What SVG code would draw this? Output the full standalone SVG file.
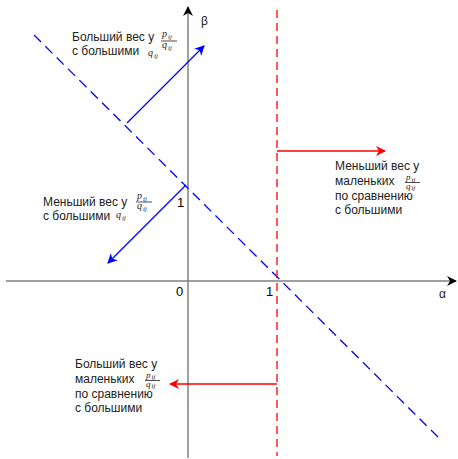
<svg xmlns="http://www.w3.org/2000/svg" width="458" height="459" viewBox="0 0 458 459">
<defs>
<marker id="ab" viewBox="0 0 10 10" refX="9" refY="5" markerWidth="10" markerHeight="10" markerUnits="userSpaceOnUse" orient="auto"><path d="M0,0 L10,5 L0,10 L3,5 Z" fill="#0000ff"/></marker>
<marker id="ar" viewBox="0 0 10 10" refX="9" refY="5" markerWidth="10" markerHeight="10" markerUnits="userSpaceOnUse" orient="auto"><path d="M0,0 L10,5 L0,10 L3,5 Z" fill="#ff0000"/></marker>
<marker id="ak" viewBox="0 0 10 10" refX="9" refY="5" markerWidth="11" markerHeight="10" markerUnits="userSpaceOnUse" orient="auto"><path d="M0,0 L10,5 L0,10 L3,5 Z" fill="#000"/></marker>
</defs>
<style>
text{font-family:"Liberation Sans",Arial,sans-serif;font-size:12px;fill:#222}
.fr{font-family:"Liberation Serif","Times New Roman",serif;font-style:italic;font-size:10px}
.fs{font-family:"Liberation Serif","Times New Roman",serif;font-style:italic;font-size:9px}
.sb{font-family:"Liberation Serif","Times New Roman",serif;font-style:italic;font-size:7px}
.num{font-size:13px;fill:#000}
.axis{stroke:#808080;stroke-width:1.5;fill:none}
.bl{stroke:#0000ff;stroke-width:1.3;fill:none}
.rd{stroke:#ff0000;stroke-width:1.3;fill:none}
.bar{stroke:#222;stroke-width:0.8}
</style>
<g id="connectors">
<line class="axis" x1="6" y1="281" x2="456" y2="281" marker-end="url(#ak)"/>
<line class="axis" x1="188" y1="458" x2="188" y2="7" marker-end="url(#ak)"/>
<line class="bl" x1="34" y1="35" x2="440" y2="439" stroke-dasharray="10,6" stroke-width="1.5"/>
<line class="rd" x1="277" y1="10" x2="277" y2="456" stroke-dasharray="8,5" stroke-width="2"/>
<line class="bl" x1="127" y1="123" x2="204" y2="46" stroke="#6b6bff" marker-end="url(#ab)"/>
<line class="bl" x1="186" y1="185" x2="108" y2="263" stroke="#6b6bff" marker-end="url(#ab)"/>
<line class="rd" x1="277" y1="151" x2="385" y2="151" stroke="#ff6060" marker-end="url(#ar)"/>
<line class="rd" x1="277" y1="384" x2="170" y2="384" stroke="#ff6060" marker-end="url(#ar)"/>
</g>
<g id="axis-labels">
<text x="201" y="25" font-size="13">β</text>
<text x="439" y="298" font-family="Liberation Serif,serif" font-size="11">α</text>
<text x="176" y="296" class="num">0</text>
<text x="266" y="296" class="num">1</text>
<text x="177" y="207" class="num">1</text>
</g>
<g id="label-top-left">
<text x="72" y="41">Больший вес у</text>
<text x="72" y="55">с большими</text>
<text x="162" y="37" class="fr">p</text><text x="168" y="39" class="sb">ij</text>
<line class="bar" x1="161" y1="41" x2="177" y2="41"/>
<text x="162" y="48" class="fr">q</text><text x="168" y="50" class="sb">ij</text>
<text x="148" y="56" class="fr">q</text><text x="154" y="58" class="sb">ij</text>
</g>
<g id="label-mid-left">
<text x="43" y="206">Меньший вес у</text>
<text x="43" y="220">с большими</text>
<text x="137" y="199" class="fr">p</text><text x="143" y="201" class="sb">ij</text>
<line class="bar" x1="136" y1="202" x2="152" y2="202"/>
<text x="137" y="209" class="fr">q</text><text x="143" y="211" class="sb">ij</text>
<text x="116" y="218" class="fr">q</text><text x="122" y="220" class="sb">ij</text>
</g>
<g id="label-right">
<text x="335" y="170">Меньший вес у</text>
<text x="335" y="185">маленьких</text>
<text x="335" y="200">по сравнению</text>
<text x="335" y="214">с большими</text>
<text x="406" y="180" class="fs">p</text><text x="411.5" y="181.5" class="sb">ij</text>
<line class="bar" x1="405" y1="182.5" x2="420" y2="182.5"/>
<text x="406" y="188.5" class="fs">q</text><text x="411.5" y="190" class="sb">ij</text>
</g>
<g id="label-bottom-left">
<text x="75" y="368">Больший вес у</text>
<text x="75" y="383">маленьких</text>
<text x="75" y="398">по сравнению</text>
<text x="75" y="412">с большими</text>
<text x="146" y="377.5" class="fs">p</text><text x="151.5" y="379" class="sb">ij</text>
<line class="bar" x1="145" y1="380.5" x2="160" y2="380.5"/>
<text x="146" y="386.5" class="fs">q</text><text x="151.5" y="388" class="sb">ij</text>
</g>
</svg>
